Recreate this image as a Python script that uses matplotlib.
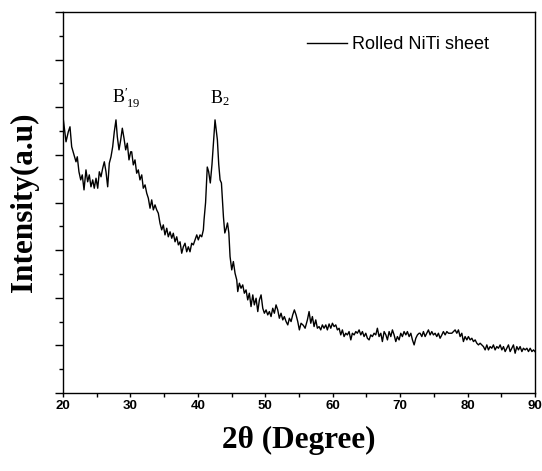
import matplotlib
matplotlib.use('Agg')
import matplotlib.pyplot as plt
from matplotlib.ticker import MultipleLocator, NullFormatter

# XRD pattern of the rolled NiTi sheet,
# one pair of lists per stretch of the scan
tt_a = [20.0, 20.45, 20.79, 21.04, 21.29, 21.63, 21.93, 22.12, 22.37, 22.63,
        22.86, 23.12, 23.41, 23.66, 23.90, 24.15, 24.41, 24.64, 24.90, 25.15,
        25.39, 25.64, 25.89, 26.13, 26.38, 26.63, 26.87, 27.12, 27.37, 27.61,
        27.86, 28.06, 28.31, 28.56, 28.80, 29.05, 29.30, 29.54, 29.79, 30.04]
int_a = [1160, 1055, 1097, 1118, 1034, 1000, 971, 992, 929, 895,
         916, 853, 937, 887, 916, 866, 895, 860, 902, 860,
         929, 908, 944, 971, 929, 866, 965, 992, 1034, 1097,
         1147, 1076, 1021, 1063, 1112, 1070, 1021, 1049, 979, 1013]

tt_b = [30.19, 30.43, 30.68, 30.93, 31.17, 31.42, 31.68, 31.91, 32.17, 32.42,
        32.66, 32.91, 33.16, 33.40, 33.65, 33.90, 34.14, 34.39, 34.64, 34.88,
        35.13, 35.39, 35.62, 35.88, 36.13, 36.36, 36.62, 36.87, 37.11, 37.36,
        37.61, 37.85, 38.10, 38.35, 38.59, 38.84, 39.09, 39.33, 39.58, 39.84,
        40.07, 40.33, 40.58, 40.82, 40.92]
int_b = [1013, 958, 979, 923, 937, 895, 916, 860, 874, 839,
         818, 776, 811, 769, 790, 769, 755, 713, 685, 706,
         664, 692, 656, 677, 650, 671, 635, 656, 622, 635,
         587, 614, 629, 593, 614, 593, 629, 622, 643, 664,
         643, 664, 656, 685, 727]

tt_c = [41.15, 41.4, 41.6, 41.85, 42.1, 42.55, 42.9, 43.1, 43.3, 43.5,
        43.8, 44.0, 44.2, 44.4, 44.6]
int_c = [800, 949, 930, 882, 960, 1147, 1063, 960, 895, 882,
         739, 672, 690, 714, 672]

tt_d = [44.78, 45.03, 45.27, 45.52, 45.77, 45.92, 46.16, 46.41, 46.66, 46.90,
        47.15, 47.40, 47.64, 47.89, 48.15, 48.38, 48.64, 48.89, 49.13, 49.38,
        49.63, 49.87, 50.12, 50.37, 50.61, 50.86, 51.11, 51.35, 51.60, 51.85,
        52.09, 52.34, 52.60, 52.83, 53.09, 53.34, 53.58, 53.83, 54.07, 54.32,
        54.57, 54.82, 55.06, 55.31, 55.65]
int_d = [573, 517, 552, 503, 475, 426, 461, 440, 454, 419,
         433, 391, 419, 363, 412, 370, 398, 342, 391, 412,
         356, 335, 349, 328, 342, 321, 356, 335, 370, 349,
         314, 335, 307, 321, 300, 286, 314, 300, 328, 349,
         328, 300, 265, 293, 284]

tt_e = [55.91, 56.25, 56.50, 56.75, 56.99, 57.24, 57.49, 57.73, 57.98, 58.23,
        58.47, 58.72, 58.98, 59.21, 59.47, 59.72, 59.96, 60.21, 60.46, 60.70,
        60.95, 61.20, 61.44, 61.69, 61.94, 62.18, 62.43, 62.69, 62.92, 63.18,
        63.43, 63.66, 63.92, 64.17, 64.41, 64.66, 64.91, 65.15, 65.40, 65.65,
        65.89, 66.14, 66.39, 66.63, 66.88, 67.14, 67.37, 67.63, 67.89, 68.12,
        68.37, 68.62, 68.86, 69.11, 69.36, 69.60, 69.85, 70.10, 70.34, 70.59,
        70.85, 71.08, 71.34, 71.59, 71.83, 72.08, 72.33, 72.57, 72.82]
int_e = [272, 307, 342, 293, 321, 279, 307, 272, 279, 265,
         286, 272, 286, 265, 290, 272, 293, 279, 286, 265,
         272, 244, 265, 237, 251, 244, 258, 223, 251, 244,
         258, 251, 265, 244, 258, 237, 251, 230, 223, 244,
         237, 251, 244, 272, 237, 251, 216, 258, 244, 223,
         258, 237, 265, 244, 216, 237, 223, 251, 237, 258,
         244, 258, 237, 251, 223, 202, 230, 244, 251]

tt_f = [72.97, 73.22, 73.46, 73.71, 73.96, 74.20, 74.45, 74.70, 74.94, 75.19,
        75.44, 75.68, 75.93, 76.19, 76.42, 76.68, 76.93, 77.17, 77.42, 77.67,
        77.91, 78.16, 78.41, 78.65, 78.90, 79.15, 79.39, 79.64, 79.90, 80.13,
        80.39, 80.64, 80.88, 81.13, 81.38, 81.62, 81.87, 82.12, 82.36, 82.61,
        82.86, 83.10, 83.35, 83.60, 83.84, 84.09, 84.34, 84.58, 84.84, 85.09,
        85.33, 85.58, 85.83, 86.07, 86.32, 86.57, 86.81, 87.06, 87.31, 87.55,
        87.80, 88.06, 88.29, 88.55, 88.80, 89.04, 89.29, 89.55, 89.79, 90.0]
int_f = [251, 237, 258, 237, 251, 265, 244, 258, 244, 251,
         237, 251, 230, 244, 258, 244, 258, 251, 251, 251,
         258, 265, 251, 265, 237, 251, 216, 237, 223, 237,
         223, 230, 216, 223, 209, 202, 209, 202, 195, 181,
         202, 181, 195, 188, 202, 181, 195, 188, 202, 181,
         195, 174, 188, 202, 174, 188, 202, 167, 195, 181,
         195, 174, 188, 181, 188, 174, 188, 174, 181, 174]

two_theta = tt_a + tt_b + tt_c + tt_d + tt_e + tt_f
intensity = int_a + int_b + int_c + int_d + int_e + int_f

peak_labels = [r'$\mathregular{B^{\prime}_{\,19}}$', r'$\mathregular{B_{2}}$']
peak_x = [27.25, 41.8]
peak_y = [1217, 1217]

plt.rcParams['mathtext.fontset'] = 'custom'
plt.rcParams['mathtext.rm'] = 'Liberation Serif'

fig = plt.figure(figsize=(5.42, 4.71), dpi=100)
ax = fig.add_axes([0.1162, 0.1656, 0.8708, 0.8089])

ax.plot(two_theta, intensity, color='black', linewidth=1.0,
        label='Rolled NiTi sheet')

for lab, px, py in zip(peak_labels, peak_x, peak_y):
    ax.text(px, py, lab, ha='left', va='baseline', fontsize=13,
            family='Liberation Serif')

ax.set_xlim(20, 90)
ax.set_ylim(0, 1600)
ax.xaxis.set_major_locator(MultipleLocator(10))
ax.xaxis.set_minor_locator(MultipleLocator(5))
ax.yaxis.set_major_locator(MultipleLocator(200))
ax.yaxis.set_minor_locator(MultipleLocator(100))
ax.yaxis.set_major_formatter(NullFormatter())
ax.tick_params(axis='x', which='both', direction='out', length=3, width=1,
               labelsize=9.5, pad=2)
ax.tick_params(axis='y', which='major', direction='out', length=6, width=1)
ax.tick_params(axis='y', which='minor', direction='out', length=3, width=1)
for lbl in ax.get_xticklabels():
    lbl.set_fontweight('bold')
    lbl.set_family('Liberation Sans')
for sp in ax.spines.values():
    sp.set_linewidth(1.0)

ax.set_xlabel('2θ (Degree)', fontsize=22.5, fontweight='bold',
              family='Liberation Serif', labelpad=10)
ax.set_ylabel('Intensity(a.u)', fontsize=22.5, fontweight='bold',
              family='Liberation Serif', labelpad=8)

ax.legend(loc='upper right', frameon=False, handlelength=2.2,
          handletextpad=0.3, borderaxespad=0,
          prop={'family': 'Liberation Sans', 'size': 13},
          bbox_to_anchor=(0.918, 0.955))

fig.savefig('out.png', dpi=100)
